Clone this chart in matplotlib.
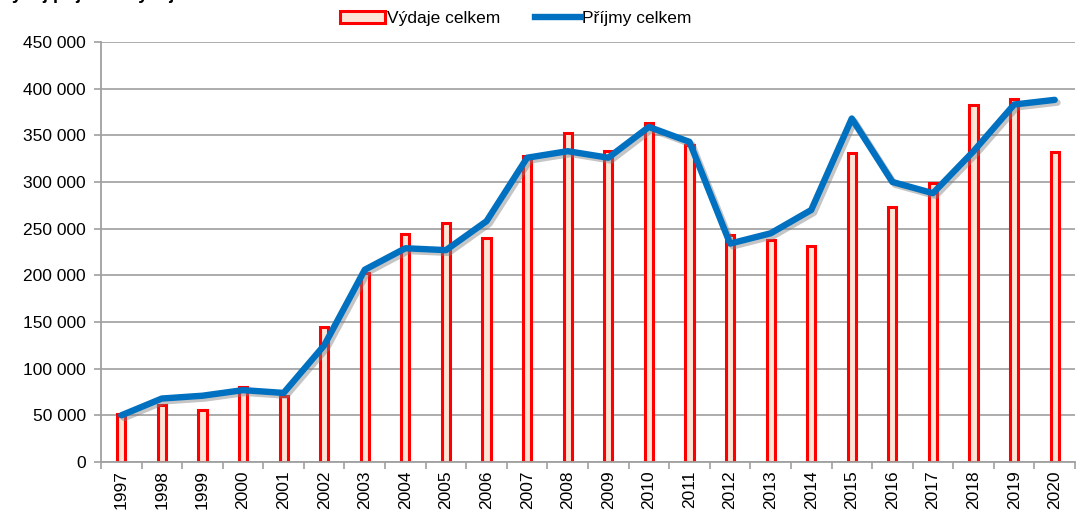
import numpy as np
import matplotlib
matplotlib.use("Agg")
from matplotlib import pyplot as plt
from matplotlib import patheffects as pe
from matplotlib.lines import Line2D
from matplotlib.patches import Patch

roky = [str(r) for r in range(1997, 2021)]
vydaje = [51000, 61000, 56000, 80000, 71000, 145000, 202000, 244000, 256000, 240000,
          328000, 353000, 333000, 363000, 340000, 243000, 238000, 231000, 331000, 273000,
          299000, 383000, 389000, 332000]
prijmy = [50000, 68000, 71000, 77000, 74000, 125000, 206000, 229000, 227000, 258000,
          326000, 333000, 326000, 359000, 343000, 234000, 245000, 270000, 368000, 300000,
          288000, 333000, 383000, 388000]
yticks = list(range(0, 450001, 50000))

plt.rcParams['font.family'] = ['Liberation Sans', 'DejaVu Sans']

fig = plt.figure(figsize=(10.79, 5.17), dpi=100)
ax = fig.add_axes([0.0936, 0.1064, 0.9027, 0.8124])

x = np.arange(len(roky))
ax.bar(x, vydaje, width=0.2, color='#FBE5D6', edgecolor='#FF0000', linewidth=2.2, zorder=2)
ax.plot(x, prijmy, color='#0070C0', linewidth=4.6, solid_capstyle='round', solid_joinstyle='round', zorder=3,
        path_effects=[pe.SimpleLineShadow(offset=(2, -2), shadow_color='#808080', alpha=0.45), pe.Normal()])

ax.set_xlim(-0.5, len(roky) - 0.5)
ax.set_ylim(0, 450000)
ax.set_yticks(yticks)
ax.set_yticklabels([f"{v:,}".replace(",", " ") for v in yticks], fontsize=12.5)
ax.set_xticks(x)
ax.set_xticklabels(roky, rotation=90, fontsize=12.5)
ax.set_xticks(np.arange(-0.5, len(roky), 1), minor=True)
ax.tick_params(axis='x', which='major', length=0, pad=6)
ax.tick_params(axis='x', which='minor', length=5, color='#A0A0A0', width=1.2)
ax.tick_params(axis='y', length=5, color='#A0A0A0', width=1.2, pad=6)
ax.grid(axis='y', color='#A6A6A6', linewidth=1.3, zorder=0)
ax.set_axisbelow(True)
for s in ['top', 'right']:
    ax.spines[s].set_visible(False)
for s in ['left', 'bottom']:
    ax.spines[s].set_color('#A0A0A0')
    ax.spines[s].set_linewidth(1.3)

handles = [Patch(facecolor='#FBE5D6', edgecolor='#FF0000', linewidth=2.2),
           Line2D([0], [0], color='#0070C0', linewidth=4.6)]
fig.legend(handles, ['Výdaje celkem', 'Příjmy celkem'], loc='center', bbox_to_anchor=(0.478, 0.965),
           ncol=2, frameon=False, fontsize=12.5, handlelength=2.6, handletextpad=0.1, columnspacing=2.0)

# nadpis je v originale oriznuty hornim okrajem
fig.text(0.0, 1.0 + 1 / 517, 'Vývoj příjmů a výdajů celkem', fontsize=13, fontweight='bold',
         ha='left', va='baseline')

fig.savefig('out.png', dpi=100)
